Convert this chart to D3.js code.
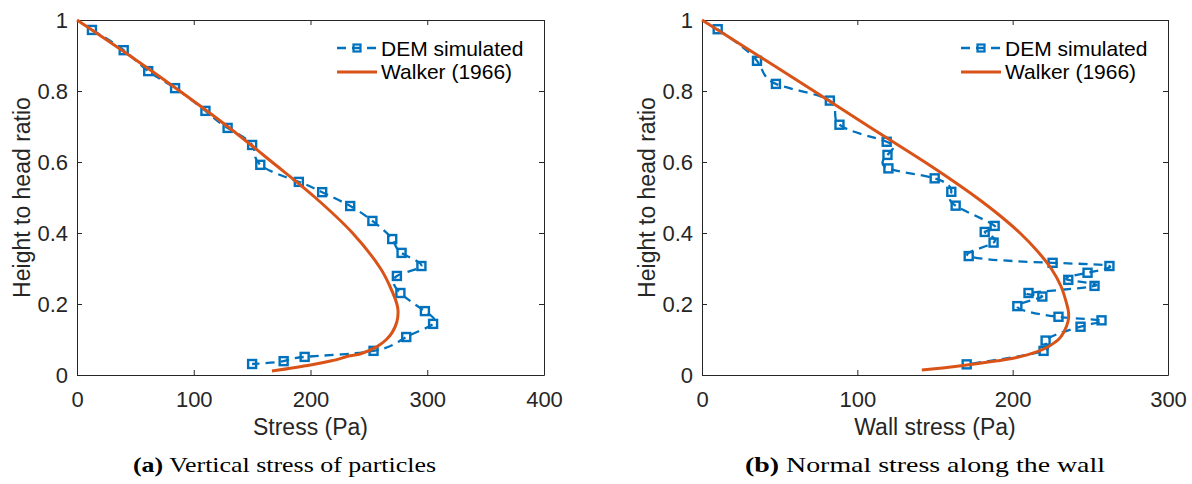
<!DOCTYPE html>
<html><head><meta charset="utf-8">
<script src="https://cdn.jsdelivr.net/npm/d3@7"></script>
<style>body{margin:0;background:#fff} svg{display:block}</style>
</head><body>
<svg id="c" width="1192" height="484"></svg>
<script>
// ---- data ----
const demA_height = [0.972,0.915,0.856,0.808,0.744,0.696,0.648,0.592,0.544,0.515,0.476,0.434,0.383,0.344,0.307,0.279,0.231,0.180,0.144,0.107,0.068,0.051,0.039,0.031];
const demA_stress = [12.8,40,61,84,110,129,150,157,190,210,234,253,270,278,295,274,277,298,305,282,254,195,177,150];
const walkerA_height = [1.0,0.9,0.8,0.7,0.6,0.5,0.4,0.3,0.25,0.2,0.18,0.15,0.12,0.1,0.08,0.06,0.054,0.04,0.028,0.011];
const walkerA_stress = [0,45,88,129,167,204,236,260,268,274,275,274,270,265,257,243,234,218,200,167];

const demB_height = [0.974,0.885,0.820,0.773,0.705,0.657,0.620,0.582,0.554,0.516,0.477,0.420,0.403,0.373,0.335,0.316,0.307,0.288,0.268,0.251,0.231,0.221,0.194,0.164,0.154,0.136,0.097,0.068,0.030];
const demB_stress = [10.1,35.4,47.6,82.3,88.5,118.9,119.4,120.0,149.8,160.5,163.3,188.4,182.0,187.7,171.7,225.7,262.3,248.2,235.8,252.7,210.2,219.1,203.0,229.5,257.2,243.7,221.2,219.9,170.4];
const walkerB_height = [1.0,0.9,0.8,0.7,0.6,0.55,0.5,0.45,0.4,0.35,0.3,0.25,0.2,0.175,0.15,0.12,0.1,0.079,0.065,0.05,0.04,0.028,0.02,0.014];
const walkerB_stress = [0,36.0,72.0,107.4,143.4,160.5,176.7,191.5,204.7,215.7,224.8,231.1,234.8,236.0,235.6,232.8,229.5,222.5,215.4,203.2,190.3,170.4,155.0,141.5];

const xTicksA = [0,100,200,300,400];
const xTicksB = [0,100,200,300];
const yTicks = [0,0.2,0.4,0.6,0.8,1];
const seriesNames = ["DEM simulated","Walker (1966)"];
const xLabels = ["Stress (Pa)","Wall stress (Pa)"];
const yLabel = "Height to head ratio";
const captions = [["(a)"," Vertical stress of particles"],["(b)"," Normal stress along the wall"]];

// ---- drawing ----
const svg = d3.select("#c");
const BLUE = "#0072BD", ORANGE = "#D95319", AX = "#262626";
const FONT = "'Liberation Sans', Arial, Helvetica, sans-serif";

function panel(o) {
  const x = d3.scaleLinear().domain(o.xDomain).range([o.left, o.right]);
  const y = d3.scaleLinear().domain([0,1]).range([375, 20]);
  const g = svg.append("g");

  const styleAxis = sel => {
    sel.selectAll("path.domain").attr("stroke", AX).attr("stroke-width", 1);
    sel.selectAll(".tick line").attr("stroke", AX).attr("stroke-width", 1);
    sel.selectAll(".tick text").attr("fill", "#262626").style("font-family", FONT).style("font-size", "22px");
  };
  g.append("g").attr("transform", "translate(0,375)")
    .call(d3.axisBottom(x).tickValues(o.xTicks).tickFormat(d => String(d)).tickSizeInner(-5).tickSizeOuter(0).tickPadding(16))
    .call(styleAxis);
  g.append("g").attr("transform", "translate(0,20)")
    .call(d3.axisTop(x).tickValues(o.xTicks).tickFormat("").tickSizeInner(-5).tickSizeOuter(0))
    .call(styleAxis);
  g.append("g").attr("transform", `translate(${o.left},0)`)
    .call(d3.axisLeft(y).tickValues(yTicks).tickFormat(d => String(d)).tickSizeInner(-5).tickSizeOuter(0).tickPadding(9))
    .call(styleAxis);
  g.append("g").attr("transform", `translate(${o.right},0)`)
    .call(d3.axisRight(y).tickValues(yTicks).tickFormat("").tickSizeInner(-5).tickSizeOuter(0))
    .call(styleAxis);

  // DEM dashed smooth line
  const dem = o.demS.map((s,i) => [s, o.demH[i]]);
  const line = d3.line().x(d => x(d[0])).y(d => y(d[1])).curve(d3.curveNatural);
  g.append("path").attr("d", line(dem)).attr("fill","none").attr("stroke",BLUE)
    .attr("stroke-width",2.3).attr("stroke-dasharray","9,6");
  g.selectAll("rect.m").data(dem).enter().append("rect").attr("class","m")
    .attr("x", d => x(d[0]) - 4).attr("y", d => y(d[1]) - 4).attr("width",8).attr("height",8)
    .attr("fill","none").attr("stroke",BLUE).attr("stroke-width",2.4);

  // Walker
  const wk = o.wkS.map((s,i) => [s, o.wkH[i]]);
  const wline = d3.line().x(d => x(d[0])).y(d => y(d[1])).curve(d3.curveCatmullRom.alpha(0.5));
  g.append("path").attr("d", wline(wk)).attr("fill","none").attr("stroke",ORANGE).attr("stroke-width",3);

  // legend
  const lx = o.legX;
  g.append("line").attr("x1",lx).attr("x2",lx+40).attr("y1",48).attr("y2",48)
    .attr("stroke",BLUE).attr("stroke-width",2.3).attr("stroke-dasharray","9,6");
  g.append("rect").attr("x",lx+20-3.5).attr("y",48-3.5).attr("width",7).attr("height",7)
    .attr("fill","none").attr("stroke",BLUE).attr("stroke-width",2.2);
  g.append("line").attr("x1",lx).attr("x2",lx+40).attr("y1",72).attr("y2",72)
    .attr("stroke",ORANGE).attr("stroke-width",3);
  g.append("text").attr("x",lx+44).attr("y",55.5).text(seriesNames[0])
    .style("font-family",FONT).style("font-size","21px").attr("fill","#000");
  g.append("text").attr("x",lx+44).attr("y",79).text(seriesNames[1])
    .style("font-family",FONT).style("font-size","21px").attr("fill","#000");

  // axis labels
  g.append("text").attr("x",(o.left+o.right)/2).attr("y",435).attr("text-anchor","middle")
    .text(o.xLabel).style("font-family",FONT).style("font-size","23px").attr("fill","#262626");
  g.append("text").attr("transform",`translate(${o.left-47},197.5) rotate(-90)`).attr("text-anchor","middle")
    .text(yLabel).style("font-family",FONT).style("font-size","23px").attr("fill","#262626");

  // caption
  const cap = g.append("text").attr("x",o.capX).attr("y",472).attr("textLength",o.capW).attr("lengthAdjust","spacingAndGlyphs")
    .style("font-family","'Liberation Serif','Times New Roman',serif").style("font-size","21px").attr("fill","#000");
  cap.append("tspan").attr("font-weight","bold").text(o.cap[0]);
  cap.append("tspan").text(o.cap[1]);
}

panel({left:77, right:544, xDomain:[0,400], xTicks:xTicksA, demS:demA_stress, demH:demA_height,
  wkS:walkerA_stress, wkH:walkerA_height, legX:337, xLabel:xLabels[0], cap:captions[0], capX:133, capW:303});
panel({left:702, right:1168, xDomain:[0,300], xTicks:xTicksB, demS:demB_stress, demH:demB_height,
  wkS:walkerB_stress, wkH:walkerB_height, legX:961, xLabel:xLabels[1], cap:captions[1], capX:745, capW:360});
</script>
</body></html>
